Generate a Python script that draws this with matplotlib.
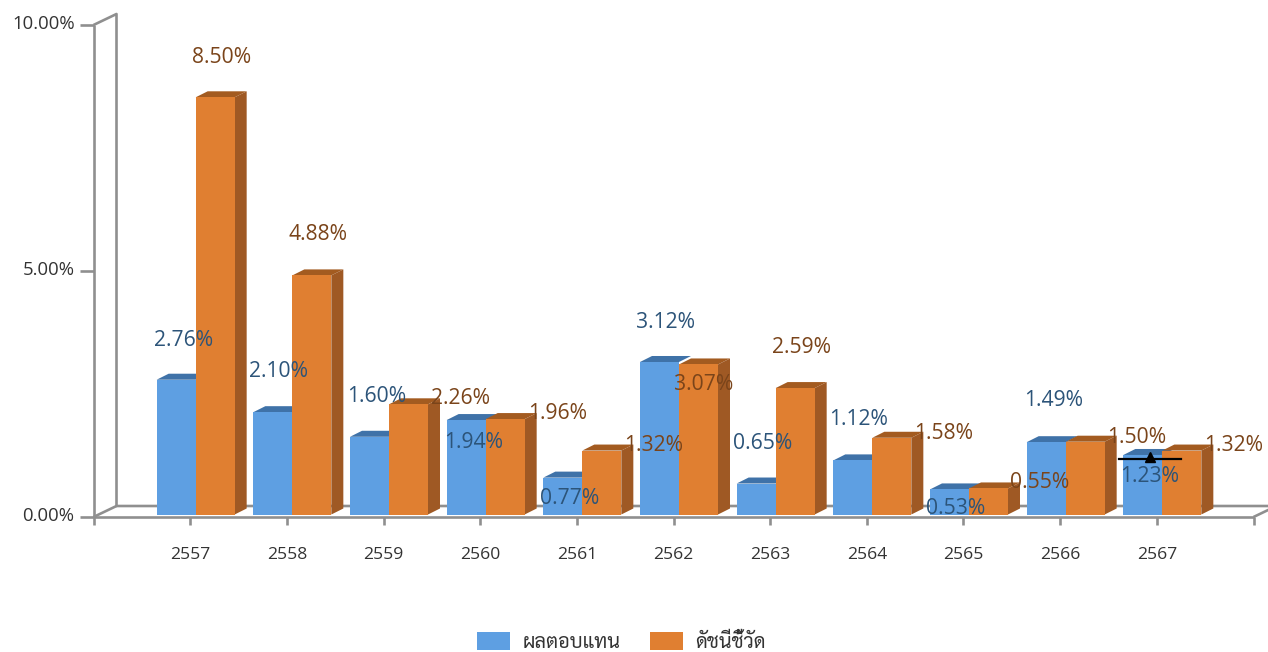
import matplotlib
matplotlib.use("Agg")
import matplotlib.pyplot as plt
from matplotlib.patches import Patch, Polygon, Rectangle

years = ["2557", "2558", "2559", "2560", "2561", "2562", "2563", "2564", "2565", "2566", "2567"]
returns = [2.76, 2.10, 1.60, 1.94, 0.77, 3.12, 0.65, 1.12, 0.53, 1.49, 1.23]
benchmark = [8.50, 4.88, 2.26, 1.96, 1.32, 3.07, 2.59, 1.58, 0.55, 1.50, 1.32]
y_ticks = [0, 5, 10]
y_labels = ["0.00%", "5.00%", "10.00%"]
series_names = ["ผลตอบแทน", "ดัชนีชี้วัด"]
marker_year = "2567"
marker_value = 1.185

# label offsets from the top of each bar front, in pixels
returns_offsets = [(7, 41), (6, 42), (7, 42), (7, -21), (7, -19), (6, 41),
                   (6, 42), (6, 42), (6, -18), (7, 43), (7, -20)]
benchmark_offsets = [(6, 41), (6, 42), (52, 7), (52, 7), (52, 7), (5, -19),
                     (6, 42), (52, 6), (51, 7), (52, 6), (52, 7)]

BLUE, BLUE_TOP = "#5e9fe2", "#3f72a8"
ORANGE, ORANGE_TOP, ORANGE_SIDE = "#e07f31", "#a35b20", "#9f5924"
BLUE_TEXT, ORANGE_TEXT = "#2c5479", "#7a441a"
AXIS = "#8f8f8f"
TEXT = "#333333"

FONT = ["Open Sans", "DejaVu Sans"]
THAI_FONT = ["Sarabun", "Noto Sans Thai", "DejaVu Sans"]

fig = plt.figure(figsize=(12.68, 6.52), dpi=100)
ax = fig.add_axes([93.5 / 1268, 1 - 517 / 652, 1160 / 1268, 492 / 652])
ax.set_xlim(0, 12)
ax.set_ylim(0, 10)
ax.axis("off")

# pixels to data units
px_x = 12 / 1160
px_y = 10 / 492
wall_dx, wall_dy = 23 * px_x, 11 * px_y
bar_dx, bar_dy = 12 * px_x, 6 * px_y
bar_w = 39 * px_x
shift = 5.5 * px_x
base = 2.5 * px_y
lift = 1.5 * px_y

line_kw = dict(color=AXIS, lw=1.9, clip_on=False, solid_capstyle="butt", zorder=1)

# back wall and floor
ax.plot([0, wall_dx, wall_dx, 12.2], [10, 10 + wall_dy, wall_dy, wall_dy], **line_kw)
ax.plot([0, wall_dx], [0, wall_dy], **line_kw)
ax.plot([12, 12 + wall_dx], [0, wall_dy], **line_kw)

# front axes with ticks
ax.plot([0, 0], [0, 10], **line_kw)
ax.plot([0, 12], [0, 0], **line_kw)
for y, lab in zip(y_ticks, y_labels):
    ax.plot([-14 * px_x, 0], [y, y], **line_kw)
    ax.text(-19 * px_x, y + 1 * px_y, lab, ha="right", va="center", fontsize=13.3,
            color=TEXT, family=FONT, clip_on=False)
for x in range(13):
    ax.plot([x, x], [0, -8 * px_y], **line_kw)
for i, year in enumerate(years):
    ax.text(i + 1, -38 * px_y, year, ha="center", va="center", fontsize=12.6,
            color=TEXT, family=FONT)


def draw_bar(x, value, front, top, side=None):
    y0 = base
    y1 = value + lift
    ax.add_patch(Rectangle((x, y0), bar_w, y1 - y0, fc=front, ec="none", zorder=3))
    ax.add_patch(Polygon([(x, y1), (x + bar_w, y1), (x + bar_w + bar_dx, y1 + bar_dy),
                          (x + bar_dx, y1 + bar_dy)], fc=top, ec="none", zorder=2.5))
    if side:
        ax.add_patch(Polygon([(x + bar_w, y0), (x + bar_w + bar_dx, y0 + bar_dy),
                              (x + bar_w + bar_dx, y1 + bar_dy), (x + bar_w, y1)],
                             fc=side, ec="none", zorder=2.5))


for i in range(len(years)):
    x = i + 1 + shift
    draw_bar(x - bar_w, returns[i], BLUE, BLUE_TOP)
    draw_bar(x, benchmark[i], ORANGE, ORANGE_TOP, ORANGE_SIDE)

# benchmark marker on the last group
mx = years.index(marker_year) + 1 - 7 * px_x
ax.plot([mx - 31 * px_x, mx + 31 * px_x], [marker_value, marker_value], color="black", lw=1.6, zorder=6)
ax.plot([mx], [marker_value + 2 * px_y], marker="^", color="black", ms=7.5, zorder=6)

# value labels
for i in range(len(years)):
    x = i + 1 + shift
    ax.annotate(f"{returns[i]:.2f}%", (x - bar_w / 2, returns[i]), xytext=returns_offsets[i],
                textcoords="offset pixels", ha="center", va="center", fontsize=15.2,
                color=BLUE_TEXT, family=FONT, zorder=7, annotation_clip=False)
    ax.annotate(f"{benchmark[i]:.2f}%", (x + bar_w / 2, benchmark[i]), xytext=benchmark_offsets[i],
                textcoords="offset pixels", ha="center", va="center", fontsize=15.2,
                color=ORANGE_TEXT, family=FONT, zorder=7, annotation_clip=False)

handles = [Patch(fc=BLUE, label=series_names[0]), Patch(fc=ORANGE, label=series_names[1])]
fig.legend(handles=handles, loc="lower left", bbox_to_anchor=(477 / 1268, 0.5 / 652), ncols=2, frameon=False,
           prop={"family": THAI_FONT, "size": 14.3}, labelcolor=TEXT, handlelength=1.65,
           handleheight=1.05, handletextpad=0.65, columnspacing=1.47, borderpad=0, borderaxespad=0)

fig.savefig("out.png", dpi=100)
